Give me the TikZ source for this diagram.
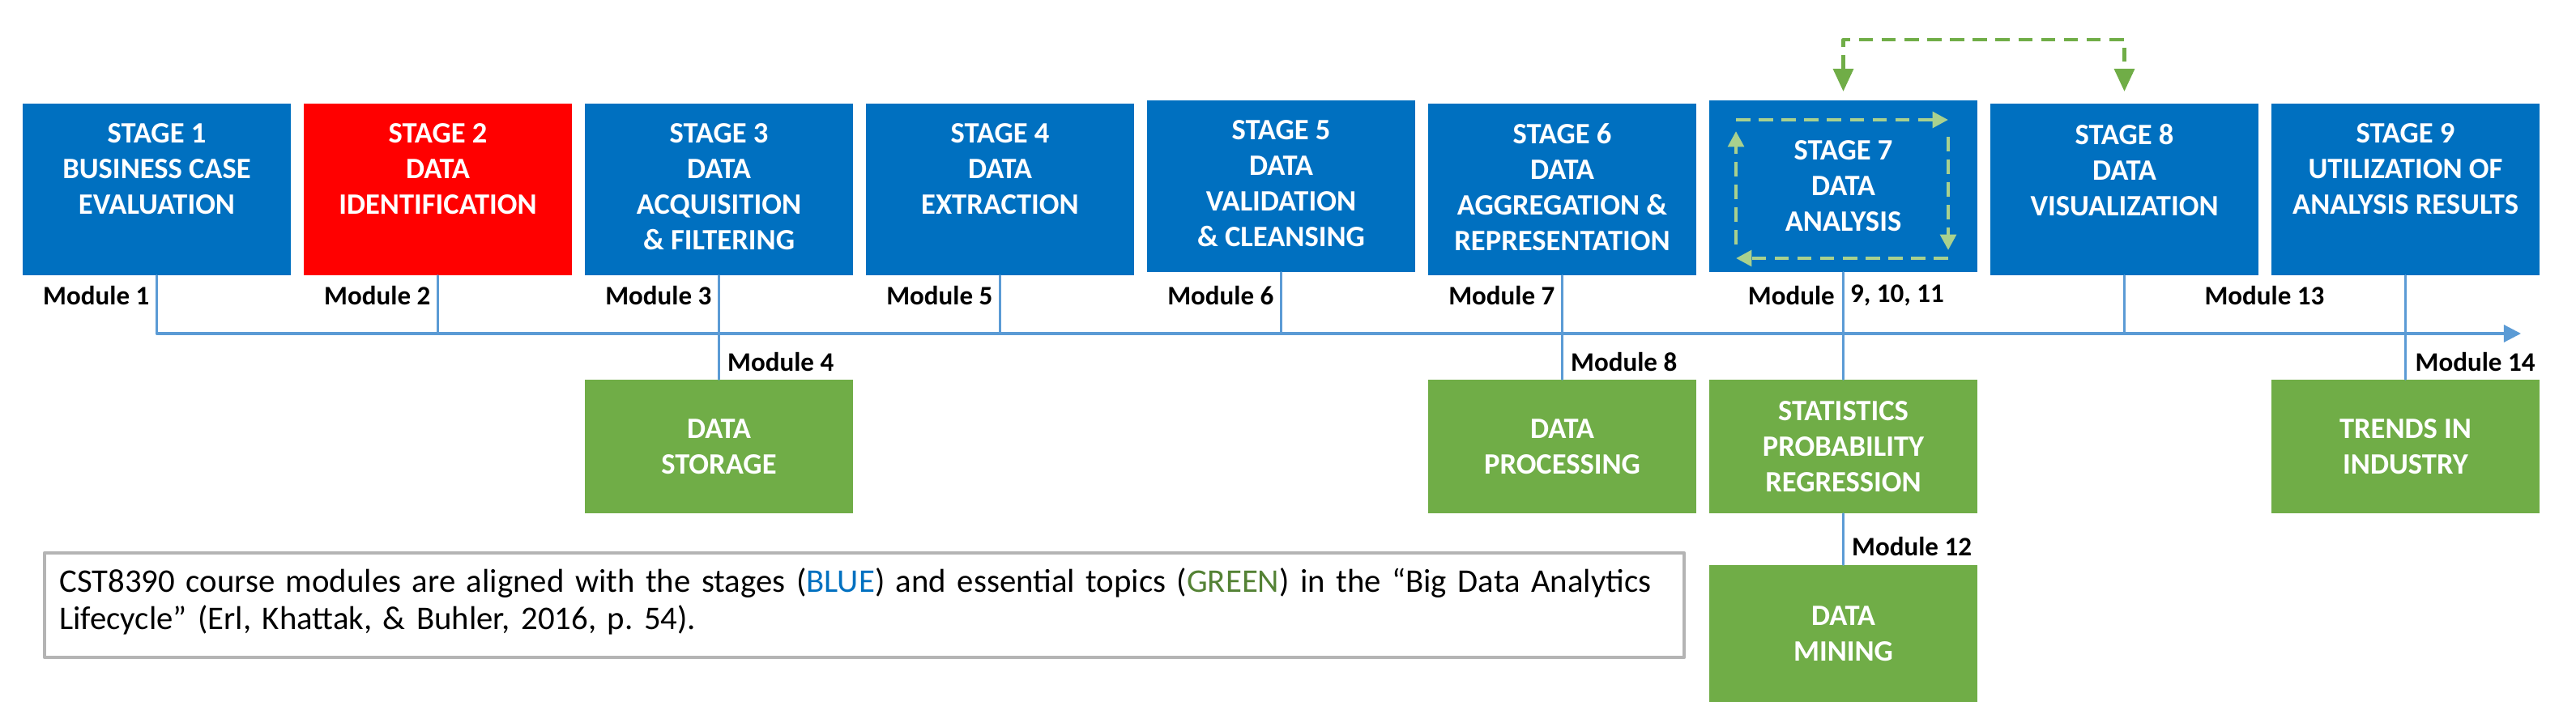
\documentclass[tikz,border=0pt]{standalone}
\usepackage{fontspec}
\setmainfont{Carlito}
\usetikzlibrary{arrows.meta}
\definecolor{stageblue}{HTML}{0070C0}
\definecolor{stagered}{HTML}{FF0000}
\definecolor{topicgreen}{HTML}{70AD47}
\definecolor{darkgreen}{HTML}{548235}
\definecolor{lightgreen}{HTML}{A9D18E}
\definecolor{lineblue}{HTML}{5B9BD5}
\definecolor{notegray}{HTML}{B4B4B4}
\newcommand{\stagefont}{\fontsize{10.4}{12.5}\selectfont\bfseries}
\newcommand{\modfont}{\fontsize{9.4}{11}\selectfont\bfseries}
\newcommand{\notefont}{\fontsize{11.6}{13.2}\selectfont}

\begin{document}
\begin{tikzpicture}[line cap=round,line join=round,
  stage/.style={fill=stageblue,minimum width=3.31cm,minimum height=2.12cm,inner sep=0pt},
  stagetext/.style={text=white,font=\stagefont,align=center,inner sep=0pt},
  topic/.style={fill=topicgreen,text=white,font=\stagefont,align=center,
    minimum width=3.31cm,minimum height=1.65cm,inner sep=0pt},
  modlabel/.style={font=\modfont,inner sep=0pt},
  track/.style={draw=lineblue,line width=0.9pt},
  loopdash/.style={draw=lightgreen,line width=1.3pt,line cap=butt,dash pattern=on 5pt off 3pt,
    -{Triangle[length=5.5pt,width=5.5pt]}},
  linkdash/.style={draw=topicgreen,line width=1.3pt,line cap=butt,dash pattern=on 5pt off 3pt,
    {Triangle[length=8pt,width=7pt]}-{Triangle[length=8pt,width=7pt]}},
  note/.style={draw=notegray,line width=1.3pt,minimum width=20.24cm,minimum height=1.29cm,inner sep=0pt},
  notetext/.style={text width=19.8cm,align=left,font=\notefont,inner sep=0pt}]
  \useasboundingbox (0,0) rectangle (31.8,8.97);
  \coordinate (T) at (31.12,4.85);
  \coordinate (a7) at (22.755,7.84);
  \coordinate (a8) at (26.225,7.84);

  \node[stage] (s1) at (1.935,6.63) {};
  \node[stage,fill=stagered] (s2) at (5.405,6.63) {};
  \node[stage] (s3) at (8.875,6.63) {};
  \node[stage] (s4) at (12.345,6.63) {};
  \node[stage] (s5) at (15.815,6.67) {};
  \node[stage] (s6) at (19.285,6.63) {};
  \node[stage] (s7) at (22.755,6.67) {};
  \node[stage] (s8) at (26.225,6.63) {};
  \node[stage] (s9) at (29.695,6.63) {};

  \node[stagetext,below=0.25cm] (s1t) at (s1.north) {STAGE 1\\BUSINESS CASE\\EVALUATION};
  \node[stagetext,below=0.25cm] (s2t) at (s2.north) {STAGE 2\\DATA\\IDENTIFICATION};
  \node[stagetext,below=0.25cm] (s3t) at (s3.north) {STAGE 3\\DATA\\ACQUISITION\\\& FILTERING};
  \node[stagetext,below=0.25cm] (s4t) at (s4.north) {STAGE 4\\DATA\\EXTRACTION};
  \node[stagetext,below=0.25cm] (s5t) at (s5.north) {STAGE 5\\DATA\\VALIDATION\\\& CLEANSING};
  \node[stagetext,below=0.25cm] (s6t) at (s6.north) {STAGE 6\\DATA\\AGGREGATION \&\\REPRESENTATION};
  \node[stagetext] (s7t) at (s7.center) {STAGE 7\\DATA\\ANALYSIS};
  \node[stagetext,below=0.25cm] (s8t) at (s8.north) {STAGE 8\\DATA\\VISUALIZATION};
  \node[stagetext,below=0.25cm] (s9t) at (s9.north) {STAGE 9\\UTILIZATION OF\\ANALYSIS RESULTS};

  \node[topic] (storage) at (8.875,3.455) {DATA\\STORAGE};
  \node[topic] (processing) at (19.285,3.455) {DATA\\PROCESSING};
  \node[topic] (stats) at (22.755,3.455) {STATISTICS\\PROBABILITY\\REGRESSION};
  \node[topic,minimum height=1.69cm] (mining) at (22.755,1.145) {DATA\\MINING};
  \node[topic] (trends) at (29.695,3.455) {TRENDS IN\\INDUSTRY};

  \draw[track,-{Triangle[length=6pt,width=6pt]}] (s1.south) |- (T);
  \draw[track] (s2.south) -- (s2.south |- T);
  \draw[track] (s3.south) -- (storage.north);
  \draw[track] (s4.south) -- (s4.south |- T);
  \draw[track] (s5.south) -- (s5.south |- T);
  \draw[track] (s6.south) -- (processing.north);
  \draw[track] (s7.south) -- (stats.north);
  \draw[track] (s8.south) -- (s8.south |- T);
  \draw[track] (s9.south) -- (trends.north);
  \draw[track] (stats.south) -- (mining.north);

  \node[modlabel,anchor=east] (m1) at (1.85,5.32) {Module 1};
  \node[modlabel,anchor=east] (m2) at (5.32,5.32) {Module 2};
  \node[modlabel,anchor=east] (m3) at (8.79,5.32) {Module 3};
  \node[modlabel,anchor=west] (m4) at (8.975,4.50) {Module 4};
  \node[modlabel,anchor=east] (m5) at (12.26,5.32) {Module 5};
  \node[modlabel,anchor=east] (m6) at (15.73,5.32) {Module 6};
  \node[modlabel,anchor=east] (m7) at (19.20,5.32) {Module 7};
  \node[modlabel,anchor=west] (m8) at (19.385,4.50) {Module 8};
  \node[modlabel,anchor=east] (m9) at (22.655,5.32) {Module};
  \node[modlabel,anchor=west] (m11) at (22.835,5.32) {9, 10, 11};
  \node[modlabel,anchor=west] (m12) at (22.855,2.22) {Module 12};
  \node[modlabel,anchor=east] (m13) at (28.70,5.32) {Module 13};
  \node[modlabel,anchor=west] (m14) at (29.81,4.50) {Module 14};

  \draw[linkdash] (a7) -- ++(0,0.64) -| (a8);
  \draw[loopdash] (21.43,7.49) -- (24.05,7.49);
  \draw[loopdash] (24.05,7.28) -- (24.05,5.88);
  \draw[loopdash] (24.05,5.78) -- (21.43,5.78);
  \draw[loopdash] (21.43,5.95) -- (21.43,7.35);

  \node[note] (note) at (10.67,1.495) {};
  \node[notetext,below right=0.2cm] (notet) at (note.north west) {CST8390 course modules are aligned with the stages (\textcolor{stageblue}{BLUE}) and essential topics (\textcolor{darkgreen}{GREEN}) in the “Big Data Analytics\\Lifecycle” (Erl, Khattak, \& Buhler, 2016, p.~54).};
\end{tikzpicture}
\end{document}
